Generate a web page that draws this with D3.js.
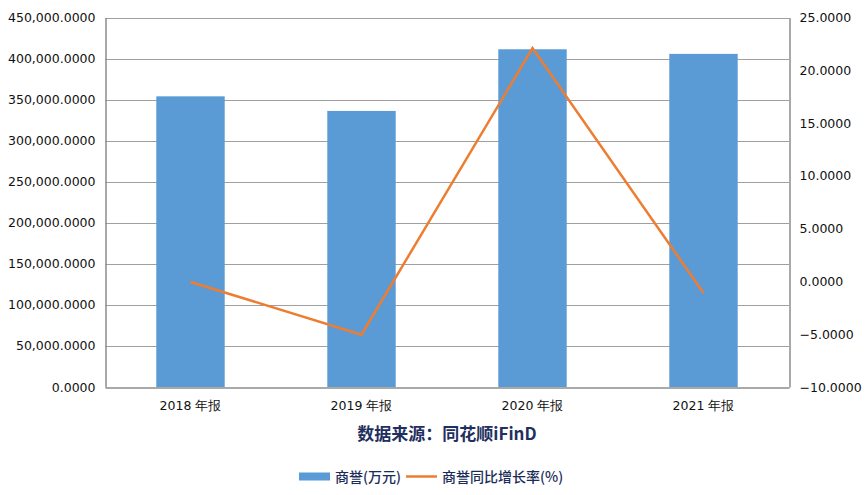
<!DOCTYPE html>
<html><head><meta charset="utf-8">
<script src="https://cdn.jsdelivr.net/npm/d3@7"></script>
<style>body{margin:0;background:#fff}svg{display:block}</style>
</head><body>
<script>
const categories = ["2018 年报", "2019 年报", "2020 年报", "2021 年报"];
const goodwill = [354000, 336200, 411300, 405700];
const growth = [-0.05, -5.05, 22.1, -1.1];
const leftTicks = [0,50000,100000,150000,200000,250000,300000,350000,400000,450000];
const rightTicks = [-10,-5,0,5,10,15,20,25];
const seriesNames = ["商誉(万元)", "商誉同比增长率(%)"];
const sourceText = "数据来源：同花顺iFinD";

const W = 866, H = 495;
const m = {left:105, right:789, top:17.5, bottom:387};
const svg = d3.select("body").append("svg").attr("width",W).attr("height",H);
const font = "'DejaVu Sans', Verdana, sans-serif";

const x = d3.scaleBand().domain(categories).range([m.left, m.right]).paddingInner(0.6).paddingOuter(0.3);
const y = d3.scaleLinear().domain([0,450000]).range([m.bottom, m.top]);
const y2 = d3.scaleLinear().domain([-10,25]).range([m.bottom, m.top]);

// gridlines
svg.append("g").selectAll("line").data(leftTicks.slice(1)).join("line")
  .attr("x1", m.left).attr("x2", m.right)
  .attr("y1", d=>Math.round(y(d))+0.5).attr("y2", d=>Math.round(y(d))+0.5)
  .attr("stroke","#a0a0a0").attr("stroke-width",1);

// bars
svg.append("g").selectAll("rect").data(goodwill).join("rect")
  .attr("x",(d,i)=>x(categories[i])).attr("width",x.bandwidth())
  .attr("y",d=>y(d)).attr("height",d=>m.bottom-y(d))
  .attr("fill","#5b9bd5");

// axes frame
const fmt = d3.format(",.4f");
const gl = svg.append("g").attr("transform",`translate(${m.left+0.5},0)`)
  .call(d3.axisLeft(y).tickValues(leftTicks).tickFormat(fmt).tickSize(0).tickPadding(10));
const gr = svg.append("g").attr("transform",`translate(${m.right+0.5},0)`)
  .call(d3.axisRight(y2).tickValues(rightTicks).tickFormat(d3.format(".4f")).tickSize(0).tickPadding(10));
const gb = svg.append("g").attr("transform",`translate(0,${m.bottom+0.5})`)
  .call(d3.axisBottom(x).tickSize(0).tickPadding(14));
[gl,gr,gb].forEach(g=>{
  g.select(".domain").attr("stroke","#8c8c8c").attr("stroke-width",1.5);
  g.selectAll("text").attr("font-family",font).attr("font-size","12.5px").attr("fill","#111");
});
gr.selectAll("text").attr("dy","0.32em");
gl.selectAll("text").attr("dy","0.32em");

// line
const line = d3.line().x((d,i)=>x(categories[i])+x.bandwidth()/2).y(d=>y2(d));
svg.append("path").datum(growth).attr("d",line)
  .attr("fill","none").attr("stroke","#ed7d31").attr("stroke-width",2.5).attr("stroke-linejoin","miter");

// source text
svg.append("text").attr("x",447).attr("y",440).attr("text-anchor","middle")
  .attr("font-family","'Noto Sans CJK SC', sans-serif").attr("font-weight","bold")
  .attr("font-size","17px").attr("fill","#1f3060").text(sourceText);

// legend
const lg = svg.append("g").attr("font-family","'Noto Sans CJK SC', sans-serif").attr("font-size","14px").attr("font-weight","500").attr("fill","#1c2c58");
lg.append("rect").attr("x",299).attr("y",472.5).attr("width",31).attr("height",8).attr("fill","#5b9bd5");
lg.append("text").attr("x",335).attr("y",482).text(seriesNames[0]);
lg.append("line").attr("x1",406).attr("x2",437).attr("y1",476.5).attr("y2",476.5).attr("stroke","#ed7d31").attr("stroke-width",2.5);
lg.append("text").attr("x",442).attr("y",482).text(seriesNames[1]);
</script>
</body></html>
